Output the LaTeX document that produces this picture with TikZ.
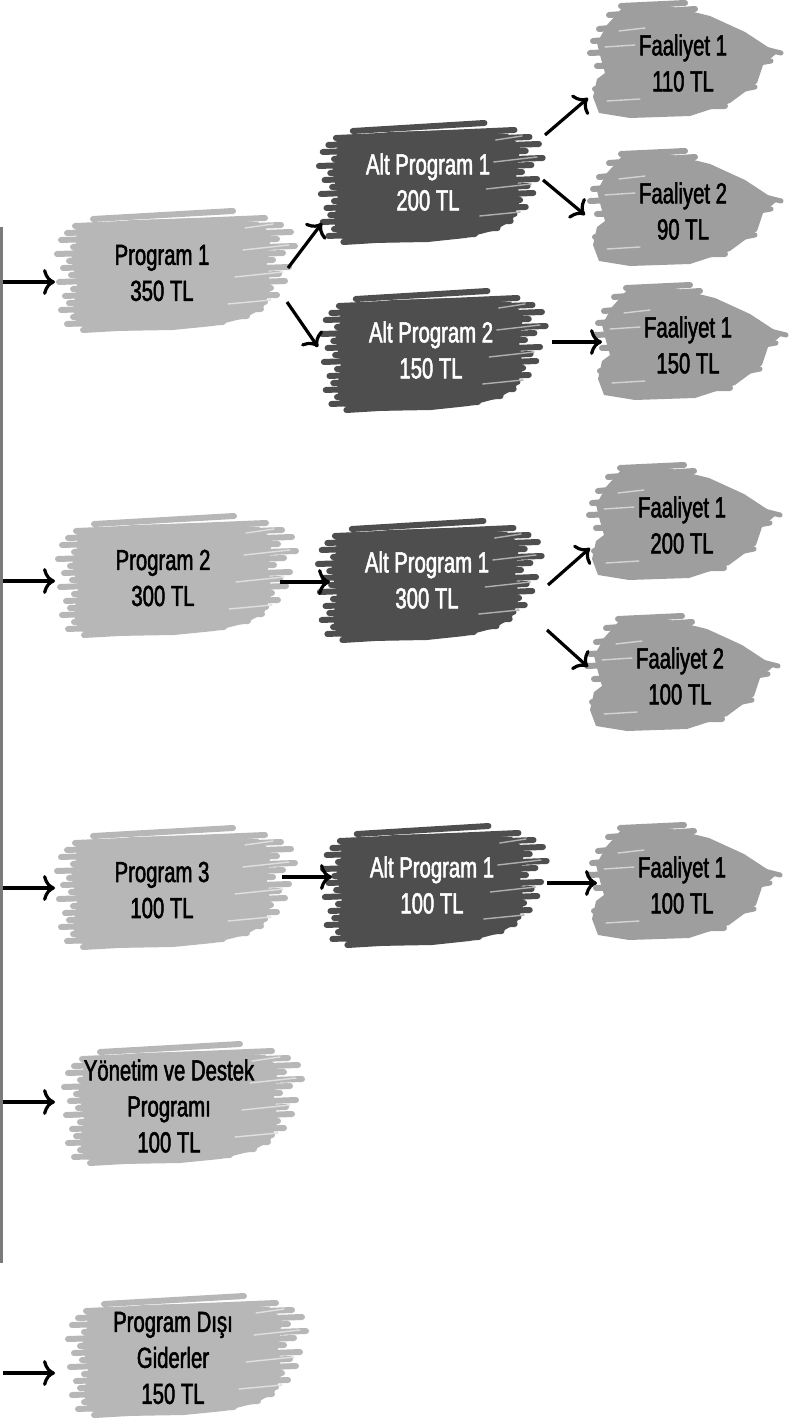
\documentclass[tikz,border=0pt]{standalone}
\usepackage{fontspec}
\setmainfont[FakeStretch=0.7,FakeBold=1.8]{Liberation Sans}
\usetikzlibrary{arrows.meta,calc,backgrounds}
\definecolor{lightbr}{HTML}{B7B7B7}
\definecolor{midbr}{HTML}{9E9E9E}
\definecolor{darkbr}{HTML}{4E4E4E}
\definecolor{spinec}{HTML}{7A7A7A}
\tikzset{
  lbl/.style={align=center, font=\fontsize{14.5}{18}\selectfont, inner sep=0pt, text=black},
  dlbl/.style={lbl, text=white},
  arr/.style={line width=1.6pt, -{Computer Modern Rightarrow[length=6pt,width=13pt]}},
  streak/.style={line width=3pt, line cap=round},
  gap/.style={line width=0.7pt, line cap=round}
}
% stroke-shaped brush, drawn round the current origin
\newcommand\strokebrush[1]{%
  \fill[#1] (-98,-48) -- (-40,-54) -- (30,-56) -- (85,-52) -- (98,-40) -- (94,-10) -- (98,15)
    -- (90,34) -- (72,44) -- (40,52) -- (0,56) -- (-60,57) -- (-96,52) -- (-100,35) -- (-96,10)
    -- (-102,-15) -- (-96,-35) -- cycle;
  \foreach \yl/\xa/\xb in {-55/-80/60, -48/-98/92, -41/-106/108, -34/-112/118,
      -27/-100/104, -20/-116/122, -13/-104/110, -6/-110/100, 1/-102/116, 8/-114/106,
      15/-100/112, 22/-108/98, 29/-104/104, 36/-112/92, 43/-100/88, 50/-106/74, 56/-90/50}
    \draw[#1, streak] (\xa,\yl) -- (\xb,{\yl-8});
  \draw[gap, white!55!#1] (70,-24) -- (116,-29);
  \draw[gap, white!55!#1] (62,3) -- (110,-2);
  \draw[gap, white!55!#1] (55,30) -- (98,26);
  \draw[gap, white!55!#1] (72,-46) -- (100,-50);
}
% pointed brush (Faaliyet)
\newcommand\tipbrush[1]{%
  \fill[#1] (-62,-54) -- (-20,-56) -- (25,-45) -- (60,-29) -- (92,-8) -- (78,4) -- (72,22)
    -- (45,42) -- (5,55) -- (-55,57) -- (-86,52) -- (-92,36) -- (-88,18) -- (-80,12)
    -- (-84,-2) -- (-88,-18) -- (-78,-36) -- cycle;
  \foreach \xa/\ya/\xb/\yb in {-92/-20/-10/-26, -86/-32/0/-40, -76/-46/10/-52,
      -64/-55/0/-58, -95/-8/0/-12, -88/5/-20/3, -84/47/40/45, -90/28/-40/26}
    \draw[#1, streak] (\xa,\ya) -- (\xb,\yb);
  \draw[#1, line width=2.5pt, line cap=round] (40,-22) -- (96,-8);
  \draw[#1, line width=2.5pt, line cap=round] (30,10) -- (86,0);
  \draw[#1, line width=2.5pt, line cap=round] (20,36) -- (70,26);
  \draw[gap, white!55!#1] (-78,40) -- (-45,38);
  \draw[gap, white!55!#1] (-80,-14) -- (-50,-16);
  \draw[gap, white!55!#1] (-66,-30) -- (-40,-33);
}
\newcommand\lightb[1]{\begin{scope}[shift={(#1)}, shift={(11,1)}]\strokebrush{lightbr}\end{scope}}
\newcommand\darkb[1]{\begin{scope}[shift={(#1)}, shift={(0,4)}, xscale=0.94]\strokebrush{darkbr}\end{scope}}
\newcommand\midb[1]{\begin{scope}[shift={(#1)}, shift={(2,-2)}]\tipbrush{midbr}\end{scope}}

\begin{document}
\begin{tikzpicture}[x=0.5pt, y=-0.5pt]
\useasboundingbox (0,0) rectangle (791,1422);

% spine
\node[fill=spinec, inner sep=0pt, minimum width=1.5pt, minimum height=518pt] (spine) at (1.5,745) {};

% programs
\node[lbl] (p1) at (162,273) {Program 1\\350 TL};
\node[lbl] (p2) at (163,578) {Program 2\\300 TL};
\node[lbl] (p3) at (162,890) {Program 3\\100 TL};
\node[lbl] (p4) at (169,1106) {Yönetim ve Destek\\Programı\\100 TL};
\node[lbl] (p5) at (173,1358) {Program Dışı\\Giderler\\150 TL};

% alt programs
\node[dlbl] (a1) at (428,182) {Alt Program 1\\200 TL};
\node[dlbl] (a2) at (431,350) {Alt Program 2\\150 TL};
\node[dlbl] (a3) at (427,580) {Alt Program 1\\300 TL};
\node[dlbl] (a4) at (432,885) {Alt Program 1\\100 TL};

% faaliyetler
\node[lbl] (f1) at (683,63) {Faaliyet 1\\110 TL};
\node[lbl] (f2) at (683,211) {Faaliyet 2\\90 TL};
\node[lbl] (f3) at (688,345) {Faaliyet 1\\150 TL};
\node[lbl] (f4) at (682,525) {Faaliyet 1\\200 TL};
\node[lbl] (f5) at (680,676) {Faaliyet 2\\100 TL};
\node[lbl] (f6) at (682,885) {Faaliyet 1\\100 TL};

\begin{scope}[on background layer]
  \lightb{p1}\lightb{p2}\lightb{p3}\lightb{p4}\lightb{p5}
  \darkb{a1}\darkb{a2}\darkb{a3}\darkb{a4}
  \midb{f1}\midb{f2}\midb{f3}\midb{f4}\midb{f5}\midb{f6}
\end{scope}

% spine arrows
\draw[arr] ($(spine.east |- p1)+(0,9)$) -- ($(p1)+(-107,9)$);
\draw[arr] ($(spine.east |- p2)+(0,3)$) -- ($(p2)+(-108,3)$);
\draw[arr] ($(spine.east |- p3)+(0,-2)$) -- ($(p3)+(-107,-2)$);
\draw[arr] ($(spine.east |- p4)+(0,-4)$) -- ($(p4)+(-114,-4)$);
\draw[arr] ($(spine.east |- p5)+(0,15)$) -- ($(p5)+(-118,15)$);

% program -> alt program
\draw[arr] ($(p1)+(126,-5)$) -- ($(a1)+(-106,41)$);
\draw[arr] ($(p1)+(125,29)$) -- ($(a2)+(-113,-3)$);
\draw[arr] ($(p2)+(117,4)$) -- ($(a3)+(-97,2)$);
\draw[arr] ($(p3)+(120,-13)$) -- ($(a4)+(-100,-8)$);

% alt program -> faaliyet
\draw[arr] ($(a1)+(117,-47)$) -- ($(f1)+(-95,35)$);
\draw[arr] ($(a1)+(115,-2)$) -- ($(f2)+(-98,4)$);
\draw[arr] ($(a2)+(121,-8)$) -- ($(f3)+(-86,-3)$);
\draw[arr] ($(a3)+(121,5)$) -- ($(f4)+(-92,23)$);
\draw[arr] ($(a3)+(120,50)$) -- ($(f5)+(-92,-9)$);
\draw[arr] ($(a4)+(115,-2)$) -- ($(f6)+(-85,-2)$);
\end{tikzpicture}
\end{document}
